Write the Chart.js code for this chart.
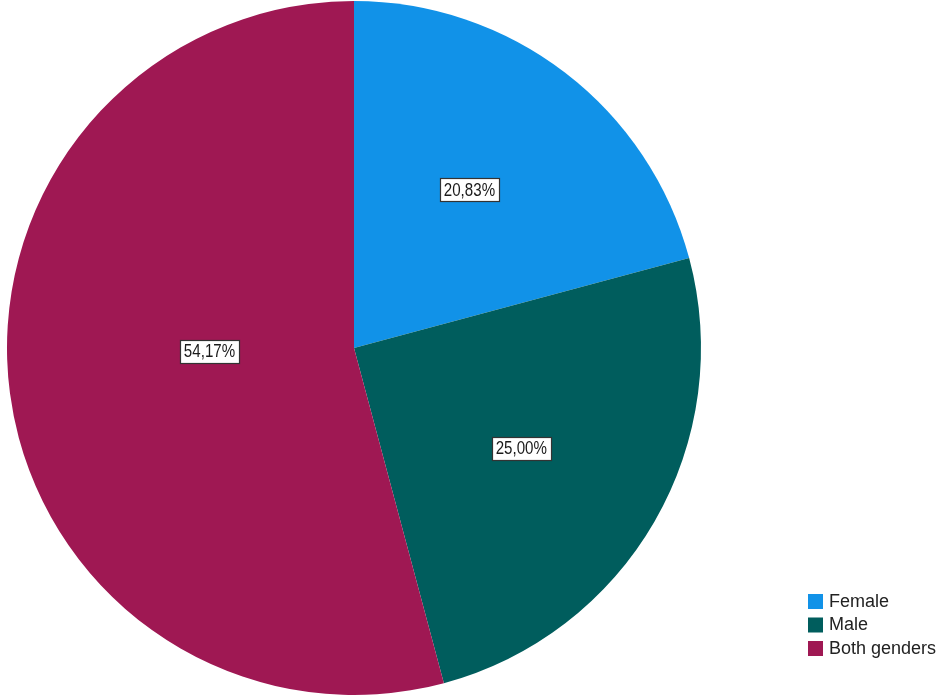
<!DOCTYPE html>
<html>
<head>
<meta charset="utf-8">
<script src="https://cdn.jsdelivr.net/npm/chart.js@4.4.0/dist/chart.umd.min.js"></script>
<style>
  html,body{margin:0;padding:0;background:#fff;}
  #wrap{width:942px;height:698px;position:relative;}
</style>
</head>
<body>
<div id="wrap"><canvas id="pieChart"></canvas></div>
<script>
// datos del grafico
const categories = ["Female", "Male", "Both genders"];
const percents = [20.83, 25.00, 54.17];
const sliceColors = ["#1192e8", "#005d5d", "#9f1853"];

// etiquetas con caja blanca
const boxLabels = {
  id: "boxLabels",
  afterDatasetsDraw(chart){
    const ctx = chart.ctx;
    const meta = chart.getDatasetMeta(0);
    const factors = [0.575, 0.56, 0.42];
    const shiftX = [-6, -1, 0];
    const shiftY = [0, 3, -16];
    ctx.save();
    ctx.font = "18px 'Liberation Sans', Arial, sans-serif";
    ctx.textBaseline = "middle";
    meta.data.forEach((arc, i)=>{
      const p = arc.getProps(["x","y","startAngle","endAngle","outerRadius"], true);
      const mid = (p.startAngle + p.endAngle)/2;
      const r = p.outerRadius * factors[i];
      const x = p.x + Math.cos(mid)*r + shiftX[i];
      const y = p.y + Math.sin(mid)*r + shiftY[i];
      const txt = chart.data.datasets[0].data[i].toFixed(2).replace(".", ",") + "%";
      const sx = 0.84;
      const tw = ctx.measureText(txt).width * sx;
      const w = Math.round(tw + 8), h = 23;
      const bx = Math.round(x - w/2) + 0.5, by = Math.round(y - h/2) + 0.5;
      ctx.fillStyle = "#fff";
      ctx.fillRect(bx, by, w, h);
      ctx.strokeStyle = "#333";
      ctx.lineWidth = 1.2;
      ctx.strokeRect(bx, by, w, h);
      ctx.fillStyle = "#1a1a1a";
      ctx.save();
      ctx.translate(x - tw/2, y + 1);
      ctx.scale(sx, 1);
      ctx.fillText(txt, 0, 0);
      ctx.restore();
    });
    ctx.restore();
  }
};

// leyenda abajo a la derecha
const cornerLegend = {
  id: "cornerLegend",
  afterDraw(chart){
    const ctx = chart.ctx;
    ctx.save();
    ctx.font = "18px 'Liberation Sans', Arial, sans-serif";
    ctx.textBaseline = "middle";
    chart.data.labels.forEach((lab, i)=>{
      const y = 601 + i*23.5;
      ctx.fillStyle = chart.data.datasets[0].backgroundColor[i];
      ctx.fillRect(808, y - 7, 15, 15);
      ctx.fillStyle = "#222";
      ctx.fillText(lab, 829, y + 1);
    });
    ctx.restore();
  }
};

new Chart(document.getElementById("pieChart"), {
  type: "pie",
  data: {
    labels: categories,
    datasets: [{
      data: percents,
      backgroundColor: sliceColors,
      borderWidth: 0
    }]
  },
  options: {
    responsive: true,
    maintainAspectRatio: false,
    animation: false,
    layout: {padding: {left: 7, top: 1, right: 241, bottom: 3}},
    plugins: {
      legend: {display: false},
      tooltip: {enabled: false}
    }
  },
  plugins: [boxLabels, cornerLegend]
});
</script>
</body>
</html>
